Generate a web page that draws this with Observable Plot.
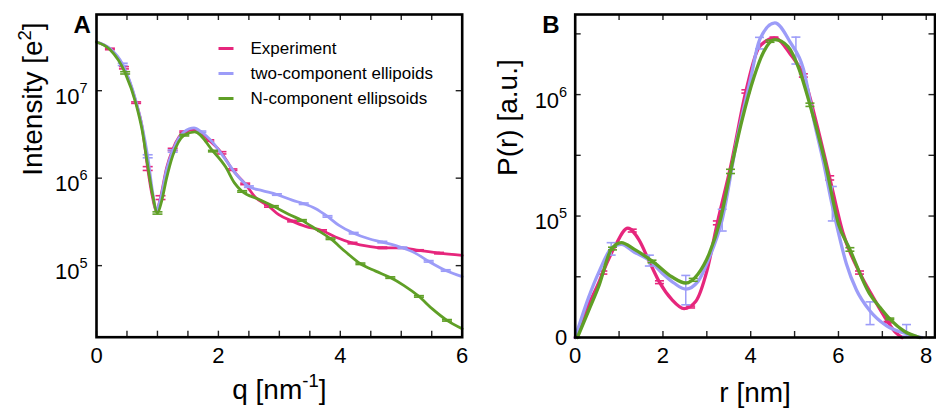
<!DOCTYPE html>
<html><head><meta charset="utf-8">
<script src="https://cdn.jsdelivr.net/npm/d3@7"></script>
<script src="https://cdn.jsdelivr.net/npm/@observablehq/plot@0.6"></script>
<style>
body{margin:0;background:#fff;}
#wrap{display:flex;width:936px;height:412px;}
</style>
</head><body><div id="wrap"></div>
<script>
// ---------- shared ----------
const seriesNames = ["Experiment", "two-component ellipoids", "N-component ellipsoids"];
const seriesColors = ["#e6267c", "#9c9cf8", "#5f9f26"];

// ---------- panel A : intensity vs q ----------
const qTicksA = [0, 0.5, 1, 1.5, 2, 2.5, 3, 3.5, 4, 4.5, 5, 5.5, 6];
const qLabelsA = [0, 2, 4, 6];
const iTicksA = [1e5, 1e6, 1e7];

const expA = [[0,3.6e7],[0.22,3.0e7],[0.45,1.83e7],[0.65,7.3e6],[0.75,3.8e6],[0.84,1.29e6],[0.92,6.0e5],[0.98,4.2e5],[1.05,6.0e5],[1.15,1.31e6],[1.25,2.13e6],[1.44,3.39e6],[1.61,3.6e6],[1.85,2.69e6],[2.05,1.95e6],[2.23,1.25e6],[2.44,8.6e5],[2.61,6.0e5],[2.83,4.75e5],[2.99,3.82e5],[3.21,3.23e5],[3.43,2.81e5],[3.70,2.52e5],[3.92,2.12e5],[4.20,1.81e5],[4.47,1.66e5],[4.69,1.60e5],[5.02,1.60e5],[5.29,1.49e5],[5.62,1.39e5],[6.0,1.31e5]];
const twoA = [[0,3.6e7],[0.22,3.05e7],[0.43,2.0e7],[0.65,7.5e6],[0.75,3.9e6],[0.84,1.78e6],[0.92,7.0e5],[0.98,4.3e5],[1.05,5.8e5],[1.15,1.25e6],[1.25,2.04e6],[1.44,3.4e6],[1.6,3.75e6],[1.72,3.39e6],[1.9,2.6e6],[2.12,1.62e6],[2.33,1.03e6],[2.50,8.0e5],[2.72,7.2e5],[2.96,6.5e5],[3.21,5.6e5],[3.40,5.1e5],[3.59,4.5e5],[3.79,3.65e5],[3.98,2.88e5],[4.22,2.35e5],[4.47,2.03e5],[4.69,1.86e5],[5.02,1.60e5],[5.23,1.39e5],[5.45,1.12e5],[5.73,8.8e4],[6.0,7.5e4]];
const nA = [[0,3.6e7],[0.22,2.95e7],[0.47,1.6e7],[0.65,7.0e6],[0.75,3.5e6],[0.84,1.4e6],[0.92,6.5e5],[1.0,4.0e5],[1.07,5.5e5],[1.15,1.0e6],[1.25,1.8e6],[1.44,3.1e6],[1.61,3.39e6],[1.91,2.04e6],[2.12,1.34e6],[2.26,8.9e5],[2.39,7.05e5],[2.64,5.8e5],[2.91,4.75e5],[3.16,3.85e5],[3.37,3.29e5],[3.59,2.64e5],[3.84,2.03e5],[4.09,1.43e5],[4.33,1.05e5],[4.58,8.65e4],[4.82,7.3e4],[5.04,5.95e4],[5.29,4.45e4],[5.51,3.2e4],[5.75,2.37e4],[6.0,1.9e4]];

// error bars: [q, I, relative error]
const expErrA = [[0.22,3.0e7,0.02],[0.45,1.83e7,0.03],[0.65,7.3e6,0.02],[0.84,1.29e6,0.05],[1.05,6.0e5,0.05],[1.25,2.13e6,0.03],[1.44,3.39e6,0.02],[1.85,2.69e6,0.02],[2.05,1.95e6,0.03],[2.23,1.25e6,0.02],[2.44,8.6e5,0.02],[2.83,4.75e5,0.02],[3.21,3.23e5,0.02],[3.70,2.52e5,0.02],[4.20,1.81e5,0.02],[4.69,1.60e5,0.02],[5.29,1.49e5,0.02],[5.62,1.39e5,0.02]];
const twoErrA = [[0.43,2.0e7,0.03],[0.84,1.78e6,0.04],[1.25,2.04e6,0.03],[1.72,3.39e6,0.02],[2.50,8.0e5,0.02],[2.96,6.5e5,0.02],[3.40,5.1e5,0.02],[3.79,3.65e5,0.02],[4.22,2.35e5,0.02],[4.69,1.86e5,0.02],[5.02,1.60e5,0.02],[5.45,1.12e5,0.02],[5.73,8.8e4,0.02]];
const nErrA = [[0.47,1.6e7,0.03],[1.0,4.0e5,0.03],[1.44,3.1e6,0.02],[1.91,2.04e6,0.02],[2.39,7.05e5,0.02],[2.91,4.75e5,0.02],[3.37,3.29e5,0.02],[3.84,2.03e5,0.02],[4.33,1.05e5,0.02],[4.82,7.3e4,0.02],[5.29,4.45e4,0.02],[5.75,2.37e4,0.02]];

// ---------- panel B : P(r) vs r ----------
const rTicksB = [0, 1, 2, 3, 4, 5, 6, 7, 8];
const rLabelsB = [0, 2, 4, 6, 8];
const pTicksB = [0, 2.5e4, 1e5, 3.25e5, 1e6, 3.025e6];
const pLabelsB = [0, 1e5, 1e6];

const expB = [[0,0],[0.3,1.0e4],[0.55,2.2e4],[0.63,2.8e4],[0.9,5.2e4],[1.2,7.8e4],[1.45,6.1e4],[1.7,3.6e4],[1.92,2.15e4],[2.2,1.24e4],[2.48,8.6e3],[2.75,1.16e4],[3.0,2.9e4],[3.24,8.7e4],[3.55,2.7e5],[3.89,1.06e6],[4.2,2.4e6],[4.55,2.8e6],[4.9,2.1e6],[5.2,1.42e6],[5.5,5.9e5],[5.8,2.12e5],[6.1,7.1e4],[6.48,2.8e4],[6.8,1.3e4],[7.13,4.0e3],[7.3,1.2e3],[7.45,0]];
const twoB = [[0,0],[0.3,1.3e4],[0.55,2.9e4],[0.82,5.0e4],[1.05,5.5e4],[1.35,4.6e4],[1.69,3.8e4],[2.0,2.7e4],[2.25,2.1e4],[2.52,1.75e4],[2.8,2.2e4],[3.05,4.0e4],[3.35,9.3e4],[3.7,4.6e5],[4.0,1.35e6],[4.2,2.7e6],[4.55,3.69e6],[4.9,2.6e6],[5.2,1.6e6],[5.45,6.0e5],[5.65,2.94e5],[5.86,1.23e5],[5.95,8.6e4],[6.18,3.5e4],[6.41,1.7e4],[6.71,7.9e3],[7.09,3.0e3],[7.55,8.7e2],[7.9,0]];
const nB = [[0.05,0],[0.3,7.6e3],[0.55,2.0e4],[0.82,4.9e4],[1.05,5.7e4],[1.35,4.9e4],[1.8,3.6e4],[2.2,2.5e4],[2.52,2.1e4],[2.8,2.7e4],[3.05,4.4e4],[3.3,9.0e4],[3.54,2.4e5],[3.8,6.2e5],[4.07,1.36e6],[4.3,2.2e6],[4.55,2.72e6],[4.85,2.4e6],[5.1,1.6e6],[5.35,8.3e5],[5.7,2.8e5],[6.0,8.5e4],[6.26,4.9e4],[6.71,1.5e4],[6.95,9.0e3],[7.17,5.0e3],[7.5,1.5e3],[7.85,0]];

// error bars: [r, P, relative error]
const expErrB = [[0.63,2.8e4,0.04],[1.3,7.4e4,0.03],[1.92,2.15e4,0.04],[2.63,9.2e3,0.04],[3.24,8.7e4,0.04],[3.89,1.06e6,0.03],[4.53,2.8e6,0.02],[5.2,1.42e6,0.03],[5.8,2.12e5,0.04],[6.48,2.8e4,0.04],[7.13,4.0e3,0.05]];
const twoErrB = [[0.82,5.0e4,0.14],[1.69,3.8e4,0.13],[2.52,1.8e4,0.44],[3.35,9.4e4,0.22],[4.2,2.57e6,0.105],[5.03,2.3e6,0.24],[5.86,1.35e5,0.33],[6.72,7.3e3,0.55],[7.55,1.8e3,0.83]];
const nErrB = [[0.85,5.0e4,0.03],[1.75,3.7e4,0.03],[2.69,2.3e4,0.04],[3.54,2.4e5,0.04],[4.44,2.65e6,0.02],[5.35,8.3e5,0.03],[6.26,4.9e4,0.04],[7.17,5.0e3,0.05]];

// ---------- helpers ----------
const hline = {draw(ctx, size) { const r = Math.sqrt(size / Math.PI); ctx.moveTo(-r, 0); ctx.lineTo(r, 0); }};
const FONT = "'Liberation Sans', Arial, Helvetica, sans-serif";

function seriesMarks(lines, errs, lineW, capR) {
  const marks = [];
  lines.forEach((pts, i) => {
    const c = seriesColors[i];
    marks.push(Plot.line(pts, {x: p => p[0], y: p => p[1], stroke: c, strokeWidth: lineW, curve: "monotone-x"}));
    const e = errs[i];
    marks.push(Plot.ruleX(e, {x: p => p[0], y1: p => p[1] * (1 - p[2]), y2: p => p[1] * (1 + p[2]), stroke: c, strokeWidth: 1.5}));
    marks.push(Plot.dot(e, {x: p => p[0], y: p => p[1] * (1 - p[2]), symbol: hline, r: capR, stroke: c, strokeWidth: 1.6, fill: "none"}));
    marks.push(Plot.dot(e, {x: p => p[0], y: p => p[1] * (1 + p[2]), symbol: hline, r: capR, stroke: c, strokeWidth: 1.6, fill: "none"}));
  });
  return marks;
}

function frameTicks(xt, yt, iw, ih) {
  const s = {stroke: "#222", strokeWidth: 1.4};
  return [
    Plot.tickX(xt, {x: d => d, insetTop: ih - 6, ...s}),
    Plot.tickX(xt, {x: d => d, insetBottom: ih - 6, ...s}),
    Plot.tickY(yt, {y: d => d, insetRight: iw - 6, ...s}),
    Plot.tickY(yt, {y: d => d, insetLeft: iw - 6, ...s})
  ];
}

function supify(svg) {
  svg.querySelectorAll("text").forEach(t => {
    const s = t.textContent;
    const m = s.match(/^(.*?)\^\{(.*?)\}(.*)$/);
    if (!m) return;
    const fs = parseFloat(getComputedStyle(t).fontSize) || 20;
    const isTick = m[1] === "10" && m[3] === "";
    const baseDy = isTick ? 0.28 * fs : 0;
    const supDy = isTick ? -0.5 * fs : -0.42 * fs;
    const ns = "http://www.w3.org/2000/svg";
    t.textContent = "";
    const a = document.createElementNS(ns, "tspan");
    a.textContent = m[1]; a.setAttribute("dy", baseDy);
    t.appendChild(a);
    const b = document.createElementNS(ns, "tspan");
    b.textContent = m[2]; b.setAttribute("dy", supDy);
    b.setAttribute("font-size", (0.66 * fs).toFixed(1));
    t.appendChild(b);
    if (m[3]) {
      const c = document.createElementNS(ns, "tspan");
      c.textContent = m[3]; c.setAttribute("dy", -supDy);
      t.appendChild(c);
    }
  });
}

// ---------- panel A ----------
function panelA() {
  const W = 470, H = 412, mL = 96, mR = 8.3, mT = 14, mB = 75.3;
  const iw = W - mL - mR, ih = H - mT - mB;
  const marks = [
    ...seriesMarks([expA, twoA, nA], [expErrA, twoErrA, nErrA], 2.8, 5),
    ...frameTicks(qTicksA, iTicksA, iw, ih),
    Plot.axisX(qLabelsA, {tickSize: 0, tickPadding: 10, fontSize: 22, label: null, tickFormat: d => String(d)}),
    Plot.axisY(iTicksA, {tickSize: 0, tickPadding: 9, fontSize: 22, label: null, tickFormat: d => "10^{" + Math.round(Math.log10(d)) + "}"}),
    Plot.text(["q [nm^{-1}]"], {text: d => d, frameAnchor: "bottom", dy: 53, fontSize: 28, lineAnchor: "middle"}),
    Plot.text(["Intensity [e^{2}]"], {text: d => d, frameAnchor: "left", dx: -63, rotate: -90, fontSize: 28, lineAnchor: "middle"}),
    Plot.text(["A"], {text: d => d, frameAnchor: "top-left", dx: -23, dy: 11, fontSize: 24, fontWeight: "bold", lineAnchor: "middle"}),
    ...seriesNames.flatMap((nm, i) => [
      Plot.dot([nm], {frameAnchor: "top-left", dx: 129.5, dy: 34 + i * 25, symbol: hline, r: 7.5, stroke: seriesColors[i], strokeWidth: 3, fill: "none"}),
      Plot.text([nm], {text: d => d, frameAnchor: "top-left", dx: 154, dy: 34 + i * 25, fontSize: 17, textAnchor: "start", lineAnchor: "middle"})
    ]),
    Plot.frame({stroke: "#000", strokeWidth: 2.6})
  ];
  return Plot.plot({
    width: W, height: H, marginLeft: mL, marginRight: mR, marginTop: mT, marginBottom: mB,
    style: {fontFamily: FONT, color: "#000", background: "#fff"},
    x: {domain: [0, 6]},
    y: {type: "log", domain: [1.52e4, 7.43e7]},
    marks
  });
}

// ---------- panel B ----------
function panelB() {
  const W = 466, H = 412, mL = 104.7, mR = 1.5, mT = 14, mB = 75;
  const iw = W - mL - mR, ih = H - mT - mB;
  const marks = [
    ...seriesMarks([expB, twoB, nB], [expErrB, twoErrB, nErrB], 3.3, 4.5),
    ...frameTicks(rTicksB, pTicksB, iw, ih),
    Plot.axisX(rLabelsB, {tickSize: 0, tickPadding: 10, fontSize: 22, label: null, tickFormat: d => String(d)}),
    Plot.axisY(pLabelsB, {tickSize: 0, tickPadding: 8, fontSize: 22, label: null, tickFormat: d => d === 0 ? "0" : "10^{" + Math.round(Math.log10(d)) + "}"}),
    Plot.text(["r [nm]"], {text: d => d, frameAnchor: "bottom", dy: 56, fontSize: 28, lineAnchor: "middle"}),
    Plot.text(["P(r) [a.u.]"], {text: d => d, frameAnchor: "left", dx: -67, rotate: -90, fontSize: 28, lineAnchor: "middle"}),
    Plot.text(["B"], {text: d => d, frameAnchor: "top-left", dx: -33, dy: 11, fontSize: 24, fontWeight: "bold", lineAnchor: "middle"}),
    Plot.frame({stroke: "#000", strokeWidth: 2.6})
  ];
  return Plot.plot({
    width: W, height: H, marginLeft: mL, marginRight: mR, marginTop: mT, marginBottom: mB,
    style: {fontFamily: FONT, color: "#000", background: "#fff"},
    x: {domain: [0, 8.2]},
    y: {type: "symlog", constant: 12500, domain: [0, 4.3e6]},
    marks
  });
}

const wrap = document.getElementById("wrap");
const a = panelA(), b = panelB();
wrap.appendChild(a); wrap.appendChild(b);
supify(a); supify(b);
</script>
</body></html>
